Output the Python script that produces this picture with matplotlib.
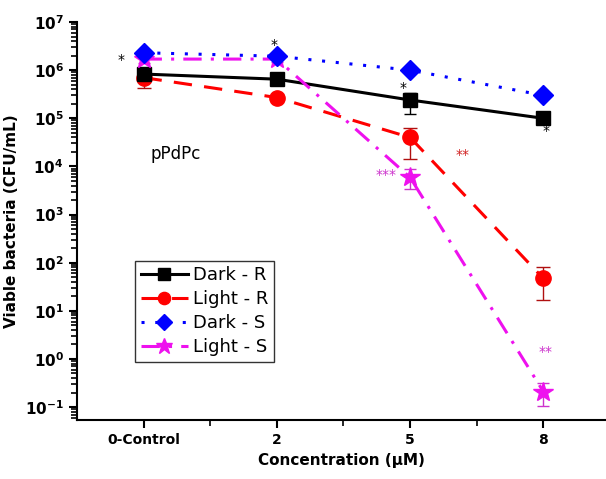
import matplotlib
matplotlib.use("Agg")
import matplotlib.pyplot as plt
from matplotlib.ticker import FixedLocator, NullFormatter
import numpy as np

categories = ["0-Control", "2", "5", "8"]

dark_r = [8.3e5, 6.5e5, 2.4e5, 1.0e5]
dark_r_lo = [1.5e5, 0.6e5, 1.2e5, 0.15e5]
dark_r_hi = [1.5e5, 0.6e5, 0.9e5, 0.1e5]

light_r = [7.0e5, 2.7e5, 4.0e4, 47]
light_r_lo = [2.8e5, 0.3e5, 2.6e4, 30]
light_r_hi = [1.0e5, 0.3e5, 2.4e4, 33]

dark_s = [2.3e6, 1.95e6, 1.0e6, 3.0e5]
light_s = [1.7e6, 1.7e6, 5.9e3, 0.21]
light_s_lo = [0.3e6, 0.2e6, 2.5e3, 0.105]
light_s_hi = [0.3e6, 0.2e6, 3.0e3, 0.11]

# significance marks: (x index, y value, text, colour)
marks = [(-0.17, 1.6e6, "*", "black"), (0.98, 3.4e6, "*", "black"),
         (1.95, 4.2e5, "*", "black"), (3.02, 5.5e4, "*", "black"),
         (2.39, 1.7e4, "**", "#d02020"), (1.82, 6.5e3, "***", "#cc33cc"),
         (3.02, 1.4, "**", "#cc33cc")]

plt.rcParams["xtick.minor.visible"] = True
plt.rcParams["ytick.minor.visible"] = True
plt.rcParams["xtick.minor.size"] = 4
plt.rcParams["ytick.minor.size"] = 4
plt.rcParams["xtick.minor.width"] = 1.2
plt.rcParams["ytick.minor.width"] = 1.2

fig = plt.figure(figsize=(6.06, 4.79), dpi=100)
ax = fig.add_axes([0.127, 0.123, 0.873, 0.831])
x = np.arange(len(categories))

# error bars (no legend entries)
ax.errorbar(x, dark_r, yerr=[dark_r_lo, dark_r_hi], fmt="none", ecolor="black",
            elinewidth=1, capsize=4, zorder=2)
ax.errorbar(x, light_r, yerr=[light_r_lo, light_r_hi], fmt="none",
            ecolor="#b01010", elinewidth=1, capsize=5, zorder=2)
ax.errorbar(x, light_s, yerr=[light_s_lo, light_s_hi], fmt="none",
            ecolor="#cc33cc", elinewidth=1, capsize=4, zorder=2)

ax.plot(x, dark_r, color="black", lw=2.2, marker="s", ms=10,
        label="Dark - R", zorder=4)
ax.plot(x, light_r, color="red", lw=2.2, ls=(0, (6, 4)), marker="o", ms=11,
        label="Light - R", zorder=3)
ax.plot(x, dark_s, color="blue", lw=2.2, ls=(0, (1, 3.5)), marker="D", ms=10,
        label="Dark - S", zorder=5)
ax.plot(x, light_s, color="#ee11ee", lw=2.2, ls=(0, (6, 3, 1, 3)), marker="*",
        ms=15, label="Light - S", zorder=4)

for mx, my, t, c in marks:
    ax.text(mx, my, t, color=c, fontsize=10, ha="center", va="center")

ax.text(0.05, 1.8e4, "pPdPc", fontsize=12, ha="left", va="center")

ax.set_yscale("log")
ax.set_xlim(-0.5, 3.47)
ax.set_ylim(10 ** -1.27, 1e7)
ax.xaxis.set_major_locator(FixedLocator(list(x)))
ax.xaxis.set_minor_locator(FixedLocator([0.5, 1.5, 2.5]))
ax.set_xticklabels(categories, fontweight="bold", fontsize=10)
ax.yaxis.set_major_locator(FixedLocator([10.0 ** k for k in range(-1, 8)]))
ax.yaxis.set_minor_locator(FixedLocator([m * 10.0 ** k for k in range(-2, 7)
                                         for m in range(2, 10)]))
ax.yaxis.set_minor_formatter(NullFormatter())
ax.set_yticklabels([r"$\mathbf{10^{%d}}$" % k for k in range(-1, 8)], fontsize=11)

for s in ["top", "right"]:
    ax.spines[s].set_visible(False)
for s in ["left", "bottom"]:
    ax.spines[s].set_linewidth(1.5)
ax.tick_params(axis="both", which="major", direction="out", length=6, width=1.5)

ax.set_xlabel("Concentration (\u03bcM)", fontweight="bold", fontsize=11)
ax.set_ylabel("Viable bacteria (CFU/mL)", fontweight="bold", fontsize=11)

leg = ax.legend(loc="upper left", bbox_to_anchor=(0.11, 0.40), fontsize=13,
                frameon=True, fancybox=False, edgecolor="black",
                handlelength=2.6, handletextpad=0.3, borderpad=0.3,
                labelspacing=0.33, numpoints=1, markerscale=0.8,
                borderaxespad=0)
leg.get_frame().set_linewidth(1.0)

fig.savefig("out.png", dpi=100, facecolor="white")
